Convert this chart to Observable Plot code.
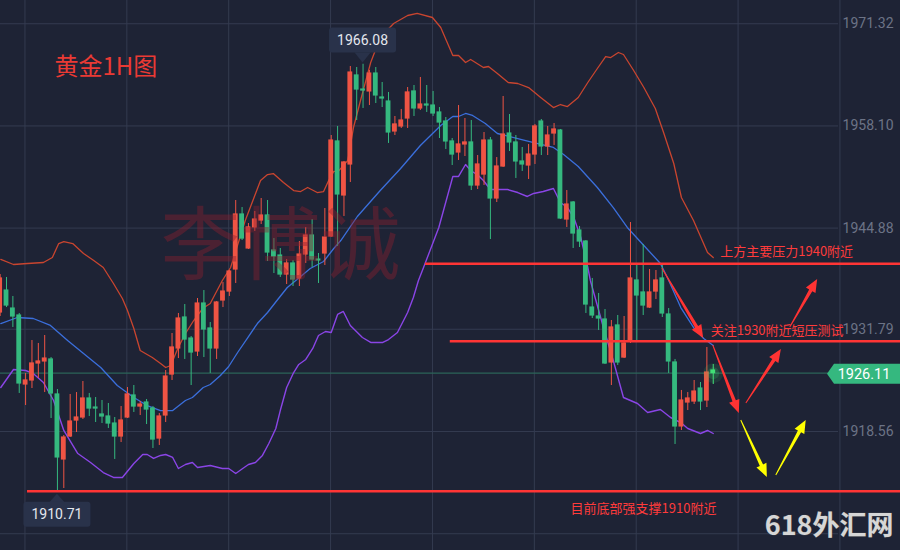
<!DOCTYPE html>
<html><head><meta charset="utf-8">
<script src="https://cdn.jsdelivr.net/npm/d3@7"></script>
<script src="https://cdn.jsdelivr.net/npm/@observablehq/plot@0.6"></script>
<style>
html,body{margin:0;padding:0;background:#1e2335;}
#chart{width:900px;height:550px;overflow:hidden;}
</style></head><body><div id="chart"></div>
<script>
// ---- data (1H gold candles, index -1 .. 111) ----
const startIndex = -1;
const opens = [1933.96,1936.80,1934.47,1933.57,1924.64,1925.16,1927.36,1927.62,1927.88,1923.35,
1914.94,1917.91,1919.98,1920.37,1922.83,1921.66,1920.76,1920.50,1919.59,1917.91,
1920.37,1923.22,1921.79,1922.31,1921.53,1917.65,1920.63,1925.93,1929.30,1933.31,
1930.59,1928.91,1935.12,1931.89,1929.30,1935.51,1936.67,1939.52,1946.64,1942.24,
1944.96,1945.86,1946.51,1941.98,1941.33,1938.87,1940.30,1938.36,1941.46,1943.92,
1940.81,1941.59,1943.79,1956.09,1949.10,1953.11,1964.63,1962.81,1962.56,1964.88,
1961.78,1961.26,1957.38,1958.03,1959.06,1962.56,1960.36,1960.87,1960.74,1959.84,
1958.67,1956.09,1954.66,1955.70,1955.96,1950.39,1951.81,1956.21,1948.71,1952.85,
1957.12,1955.96,1953.50,1952.98,1954.40,1958.67,1955.44,1957.12,1957.51,1945.99,
1948.19,1944.57,1943.14,1934.60,1933.44,1933.05,1927.49,1932.28,1928.13,1930.33,
1938.10,1936.55,1934.60,1936.67,1938.36,1933.70,1927.49,1919.21,1922.31,1922.44,
1924.12,1922.57,1926.45];
const highs = [1938.87,1938.49,1936.03,1933.83,1926.07,1930.33,1929.95,1930.98,1928.13,1923.99,
1918.04,1923.35,1923.60,1925.03,1923.48,1922.96,1922.57,1922.18,1920.37,1921.79,
1924.25,1924.51,1922.44,1922.70,1921.79,1920.89,1926.45,1931.24,1933.83,1934.99,
1930.85,1935.77,1936.80,1932.66,1935.38,1937.84,1939.39,1948.45,1947.54,1945.47,
1947.03,1948.71,1948.45,1943.53,1942.24,1940.81,1940.69,1943.14,1944.96,1945.99,
1941.59,1947.41,1956.86,1958.03,1953.50,1965.79,1965.66,1966.08,1965.27,1965.66,
1963.72,1962.43,1959.32,1960.23,1963.07,1963.33,1964.37,1963.33,1962.56,1960.48,
1959.19,1956.47,1960.74,1959.06,1958.80,1954.27,1957.25,1956.60,1954.01,1961.91,
1959.58,1956.86,1955.31,1955.70,1958.29,1958.93,1958.03,1958.41,1957.64,1949.74,
1948.32,1945.09,1943.27,1938.36,1936.42,1934.34,1932.92,1933.57,1933.44,1945.60,
1940.04,1942.76,1939.52,1939.39,1940.17,1934.47,1927.88,1923.87,1923.60,1925.16,
1924.90,1929.43,1927.23];
const lows = [1933.44,1934.60,1932.02,1923.48,1921.92,1924.12,1925.42,1923.60,1920.24,1910.71,
1911.18,1917.78,1918.43,1920.11,1920.50,1919.72,1919.59,1918.95,1914.94,1917.13,
1920.24,1921.02,1920.63,1919.46,1916.36,1916.75,1919.72,1925.16,1928.00,1927.88,
1924.51,1928.26,1928.13,1926.07,1927.88,1934.60,1936.03,1937.71,1943.27,1942.11,
1944.44,1945.34,1940.56,1939.00,1938.49,1937.58,1937.32,1937.32,1940.30,1939.78,
1937.71,1940.04,1943.66,1942.50,1946.38,1950.78,1958.80,1960.36,1960.74,1961.00,
1960.48,1955.83,1956.86,1957.77,1957.77,1959.32,1960.10,1959.84,1959.32,1956.47,
1955.05,1952.98,1953.63,1954.14,1949.74,1949.87,1950.39,1943.40,1948.19,1952.72,
1954.79,1951.30,1952.21,1951.17,1953.11,1954.27,1954.27,1955.57,1945.99,1944.96,
1942.24,1942.37,1933.83,1933.18,1931.63,1927.23,1924.51,1927.10,1928.00,1929.95,
1930.33,1933.57,1934.47,1935.64,1933.31,1926.07,1916.88,1918.69,1921.27,1922.05,
1921.27,1921.66,1924.64];
const closes = [1938.36,1934.86,1933.44,1924.77,1925.16,1927.36,1927.62,1928.00,1923.48,1915.20,
1917.78,1919.85,1920.37,1922.83,1921.53,1921.53,1920.50,1919.59,1917.91,1919.98,
1923.35,1921.79,1922.05,1921.40,1917.52,1920.50,1925.67,1929.43,1933.18,1930.46,
1928.78,1935.12,1931.76,1929.30,1935.25,1936.67,1939.26,1946.64,1943.53,1944.96,
1945.99,1946.51,1941.72,1941.20,1938.87,1940.30,1938.23,1941.46,1943.92,1940.81,
1940.69,1943.66,1956.21,1949.23,1953.37,1965.01,1962.81,1962.68,1964.88,1962.04,
1961.65,1957.25,1958.29,1958.80,1962.43,1960.36,1960.87,1960.74,1959.71,1958.54,
1956.09,1954.40,1955.70,1955.96,1950.39,1953.11,1956.21,1948.71,1952.85,1956.99,
1955.96,1953.50,1953.11,1954.40,1958.03,1955.44,1956.86,1957.64,1946.12,1947.93,
1944.18,1943.14,1934.99,1933.57,1933.18,1927.36,1932.02,1927.49,1929.95,1938.36,
1936.16,1934.86,1936.55,1938.10,1933.83,1927.62,1919.21,1922.57,1922.83,1923.73,
1922.44,1926.19,1926.11];

// Bollinger bands: [candle index, price]
const upperBand = [[-0.9,1940.82],[1.1,1940.17],[3.3,1940.30],[5.8,1940.43],[7.2,1941.07],[8.2,1942.88],[9.0,1943.14],[10.4,1942.88],[12.1,1941.59],[13.7,1940.69],[15.2,1939.78],[16.8,1937.71],[18.2,1935.77],[19.0,1934.22],[20.0,1931.89],[21.0,1929.04],[22.9,1928.13],[24.2,1927.36],[25.0,1926.84],[25.8,1927.10],[26.9,1929.30],[28.1,1931.24],[29.4,1932.92],[30.8,1934.47],[32.0,1935.12],[33.9,1938.10],[35.2,1939.78],[37.5,1945.86],[39.9,1951.04],[41.0,1951.81],[41.9,1951.94],[43.5,1950.78],[45.1,1949.74],[46.2,1949.61],[47.3,1950.13],[48.8,1949.48],[49.8,1949.61],[50.6,1951.04],[51.4,1952.21],[52.1,1952.21],[53.6,1953.63],[54.5,1957.90],[55.6,1961.39],[57.2,1966.31],[58.7,1969.54],[60.8,1971.35],[63.0,1972.39],[64.5,1972.65],[66.9,1972.13],[68.2,1970.84],[70.1,1967.21],[71.0,1967.21],[72.1,1966.31],[72.9,1966.70],[74.9,1965.66],[75.7,1965.79],[77.1,1964.88],[78.8,1963.72],[80.3,1963.59],[82.0,1963.07],[83.9,1961.78],[85.9,1960.48],[87.0,1960.87],[88.1,1960.61],[89.8,1961.78],[91.3,1963.72],[92.8,1965.53],[94.1,1967.08],[94.9,1966.95],[96.1,1967.60],[96.9,1967.34],[98.5,1965.27],[100.1,1963.07],[101.9,1960.36],[103.2,1957.25],[104.8,1953.24],[106.0,1948.84],[107.9,1945.86],[110.1,1941.72],[111.0,1941.07]];
const middleBand = [[-0.9,1932.53],[1.7,1933.31],[4.2,1933.18],[6.9,1932.28],[9.6,1930.33],[12.1,1928.65],[14.8,1926.84],[17.4,1924.51],[20.0,1922.96],[22.1,1921.92],[24.2,1921.27],[26.1,1921.27],[28.1,1922.57],[29.2,1922.96],[30.9,1924.25],[32.0,1924.64],[33.6,1925.80],[34.9,1926.97],[36.3,1928.78],[37.9,1930.72],[39.4,1932.53],[41.0,1933.96],[42.6,1935.64],[44.1,1937.19],[46.2,1938.62],[47.7,1939.65],[49.8,1940.56],[51.4,1942.24],[52.5,1943.27],[55.1,1946.38],[58.7,1949.74],[61.9,1952.59],[65.0,1955.57],[68.2,1958.16],[70.1,1959.32],[71.0,1959.32],[72.1,1959.71],[73.2,1959.45],[75.2,1958.41],[77.1,1957.12],[80.3,1956.47],[82.8,1955.95],[85.9,1955.31],[87.5,1954.40],[89.8,1952.85],[92.8,1950.13],[95.3,1947.54],[97.5,1944.96],[100.1,1942.63],[102.7,1940.30],[103.8,1938.49],[105.9,1934.60],[107.9,1932.02],[109.5,1930.59],[111.0,1929.69]];
const lowerBand = [[-0.9,1924.25],[1.1,1926.58],[3.0,1926.45],[4.2,1926.07],[5.8,1924.90],[7.4,1922.57],[9.0,1918.69],[11.2,1915.71],[13.2,1914.55],[15.2,1913.25],[16.8,1912.61],[18.2,1912.61],[20.0,1914.42],[21.4,1915.58],[22.1,1915.58],[23.1,1915.07],[24.2,1915.46],[25.0,1915.58],[26.1,1915.20],[27.0,1913.77],[28.1,1914.29],[29.2,1914.55],[30.0,1913.90],[32.0,1914.16],[33.9,1913.77],[34.9,1913.77],[36.0,1913.12],[37.1,1913.77],[38.0,1914.29],[39.1,1914.55],[40.2,1915.46],[41.2,1917.01],[42.3,1918.95],[43.0,1921.27],[44.0,1924.25],[45.1,1926.19],[45.9,1927.23],[47.0,1927.88],[48.1,1929.30],[49.0,1930.98],[50.1,1931.50],[51.0,1931.37],[52.0,1933.70],[52.9,1934.09],[54.0,1932.28],[55.9,1930.72],[57.2,1930.08],[59.1,1930.08],[60.0,1930.46],[61.4,1931.37],[63.0,1933.96],[63.9,1935.90],[64.7,1938.10],[65.5,1939.78],[67.9,1944.96],[70.1,1951.56],[71.0,1951.56],[72.1,1953.11],[72.9,1952.33],[74.1,1951.69],[74.9,1951.04],[76.0,1949.87],[78.7,1949.87],[80.3,1949.48],[81.8,1948.97],[82.8,1949.36],[84.3,1949.61],[85.9,1950.00],[87.0,1948.19],[88.1,1947.54],[89.1,1946.25],[90.2,1943.66],[91.3,1939.78],[91.7,1938.10],[93.8,1931.89],[95.3,1927.75],[96.9,1922.96],[99.1,1922.18],[100.7,1921.02],[102.7,1921.40],[104.3,1920.37],[105.9,1919.72],[107.0,1918.95],[109.0,1918.30],[110.1,1918.69],[111.0,1918.30]];

const axisTicks = [1971.32, 1958.10, 1944.88, 1931.79, 1918.56];
const extraGrid = [1905.33];
const timeGrid = [2.9, 18.9, 34.9, 50.9, 66.9, 82.9, 98.9, 114.9, 130.9];
const lastPrice = 1926.11;
const highMark = {i: 56, p: 1966.08};
const lowMark = {i: 8, p: 1910.71};

const levelPrices = [1940.26, 1930.24, 1910.83];
const levelStarts = [65.8, 69.7, 3.3];
const levelTexts = ["上方主要压力1940附近", "关注1930附近短压测试", "目前底部强支撑1910附近"];
const levelTextAt = [112.1, 110.6, 88.6];

const arrowSegments = [
  {t1: 103.0, p1: 1939.65, t2: 109.5, p2: 1930.59, kind: "red"},
  {t1: 111.0, p1: 1929.69, t2: 115.1, p2: 1920.89, kind: "red"},
  {t1: 116.2, p1: 1922.18, t2: 121.7, p2: 1929.17, kind: "red"},
  {t1: 123.1, p1: 1932.02, t2: 127.4, p2: 1938.23, kind: "red"},
  {t1: 115.4, p1: 1919.98, t2: 119.5, p2: 1912.61, kind: "yellow"},
  {t1: 120.9, p1: 1912.87, t2: 125.6, p2: 1919.98, kind: "yellow"}
];

// ---- styles ----
const BG = "#1e2335", GRID = "#343b50";
const UP = "#ef5444", DOWN = "#35b97f";
const CJK = "'Noto Sans CJK SC','Noto Sans',sans-serif";
const NUM = "Roboto,'Noto Sans',sans-serif";
const xDomain = [-0.9424, 140.41];
const yDomain = [1903.16, 1974.33];

const candles = opens.map((o, k) => ({i: startIndex + k, o, h: highs[k], l: lows[k], c: closes[k]}));
const lastIdx = candles[candles.length - 1].i;
const col = d => d.i === lastIdx ? "#44e07a" : (d.c >= d.o ? UP : DOWN);
const levels = levelPrices.map((p, k) => ({p, from: levelStarts[k], text: levelTexts[k], at: levelTextAt[k]}));
const levelDy = [-11.6, -10.7, 18];
const toPts = a => a.map(([t, v]) => ({t, v}));

const plot = Plot.plot({
  width: 900, height: 550,
  marginTop: 0, marginRight: 0, marginBottom: 0, marginLeft: 0,
  style: {background: BG, fontFamily: NUM, overflow: "hidden"},
  x: {domain: xDomain, axis: null},
  y: {domain: yDomain, axis: null},
  color: {type: "identity"},
  marks: [
    Plot.ruleX(timeGrid, {stroke: GRID, strokeWidth: 1}),
    Plot.ruleY(axisTicks.concat(extraGrid), {stroke: GRID, strokeWidth: 1, insetRight: 62}),
    Plot.ruleY([lastPrice], {stroke: "#2b6558", strokeWidth: 1.2, insetRight: 72}),
    Plot.line(toPts(upperBand), {x: "t", y: "v", stroke: "#c9452f", strokeWidth: 1.3}),
    Plot.line(toPts(middleBand), {x: "t", y: "v", stroke: "#3b6fdc", strokeWidth: 1.3}),
    Plot.line(toPts(lowerBand), {x: "t", y: "v", stroke: "#8a45e6", strokeWidth: 1.4}),
    Plot.ruleX(candles, {x: "i", y1: "l", y2: "h", stroke: col, strokeWidth: 1}),
    Plot.rect(candles, {
      x1: d => d.i - 0.38, x2: d => d.i + 0.38,
      y1: d => Math.min(d.o, d.c), y2: d => Math.max(d.o, d.c),
      fill: col, insetTop: -0.6, insetBottom: -0.6
    }),
    Plot.dot([candles[candles.length - 1]], {x: "i", y: "c", r: 10, fill: "#3ddc6f", fillOpacity: 0.12}),
    Plot.dot([candles[candles.length - 1]], {x: "i", y: "c", r: 6, fill: "#3ddc6f", fillOpacity: 0.18}),
    Plot.ruleY(levels, {y: "p", x1: "from", x2: xDomain[1], stroke: "#ff3535", strokeWidth: 2.4}),
    ...levels.map((l, k) => Plot.text([l], {x: "at", y: "p", text: "text", dy: levelDy[k],
      textAnchor: "start", lineAnchor: "middle", fill: "#ff3b3b", fontSize: 13, fontFamily: CJK})),
    Plot.text(axisTicks, {y: d => d, text: d => d.toFixed(2), frameAnchor: "right", dx: -7,
      textAnchor: "end", lineAnchor: "middle", fill: "#6c7386", fontSize: 14, fontFamily: NUM}),
    Plot.text(["黄金1H图"], {text: d => d, frameAnchor: "top-left", dx: 54, dy: 67,
      textAnchor: "start", lineAnchor: "middle", fill: "#ea3a34", fontSize: 24, fontFamily: CJK}),
    Plot.text(["李博诚"], {text: d => d, frameAnchor: "top-left", dx: 280, dy: 247,
      textAnchor: "middle", lineAnchor: "middle", fill: "#8a1f30", fillOpacity: 0.42, fontSize: 80, fontFamily: CJK}),
    Plot.text(["618外汇网"], {text: d => d, frameAnchor: "bottom-right", dx: -7, dy: -24,
      textAnchor: "end", lineAnchor: "middle", fill: "#d6d6d6", stroke: "#555", strokeWidth: 0.6,
      fontSize: 27, fontWeight: "bold", fontFamily: CJK})
  ]
});

// ---- annotations via the plot's own scales ----
const sx = plot.scale("x"), sy = plot.scale("y");
const X = v => sx.apply(v), Y = v => sy.apply(v);
const svg = d3.select(plot);
const g = svg.append("g");

for (const a of arrowSegments) {
  const x1 = X(a.t1), y1 = Y(a.p1), x2 = X(a.t2), y2 = Y(a.p2);
  const dx = x2 - x1, dy = y2 - y1, len = Math.hypot(dx, dy);
  const ux = dx / len, uy = dy / len, nx = -uy, ny = ux;
  const hl = 13, hw = 5.5, w0 = 0.5, w1 = 1.8;
  const bx = x2 - ux * hl, by = y2 - uy * hl;
  const pts = [[x1 + nx * w0, y1 + ny * w0], [bx + nx * w1, by + ny * w1], [bx + nx * hw, by + ny * hw],
    [x2, y2], [bx - nx * hw, by - ny * hw], [bx - nx * w1, by - ny * w1], [x1 - nx * w0, y1 - ny * w0]];
  g.append("path").attr("d", "M" + pts.map(p => p.join(",")).join("L") + "Z")
    .attr("fill", a.kind === "red" ? "#ff3333" : "#ffff00");
}

// high label
{
  const cx = X(highMark.i), tip = Y(highMark.p) - 1.3;
  g.append("path").attr("d", `M${cx - 8},${tip - 10}L${cx + 8},${tip - 10}L${cx},${tip}Z`).attr("fill", "#29324a");
  g.append("rect").attr("x", cx - 33.5).attr("y", tip - 35).attr("width", 67).attr("height", 25).attr("rx", 3).attr("fill", "#29324a");
  g.append("text").attr("x", cx).attr("y", tip - 22.5).attr("dy", "0.35em").attr("text-anchor", "middle")
    .attr("fill", "#e4e7ee").attr("font-size", 14).attr("font-family", NUM).text(highMark.p.toFixed(2));
}
// low label
{
  const cx = X(lowMark.i), tip = Y(lowMark.p) + 2;
  g.append("path").attr("d", `M${cx - 8},${tip + 9}L${cx + 8},${tip + 9}L${cx},${tip}Z`).attr("fill", "#29324a");
  g.append("rect").attr("x", cx - 33.5).attr("y", tip + 8).attr("width", 67).attr("height", 25).attr("rx", 3).attr("fill", "#29324a");
  g.append("text").attr("x", cx).attr("y", tip + 20.5).attr("dy", "0.35em").attr("text-anchor", "middle")
    .attr("fill", "#e4e7ee").attr("font-size", 14).attr("font-family", NUM).text(lowMark.p.toFixed(2));
}
// last price tag
{
  const py = Y(lastPrice) + 1;
  g.append("path").attr("d", `M827,${py}L834,${py - 10}L900,${py - 10}L900,${py + 10}L834,${py + 10}Z`).attr("fill", "#35b87f");
  g.append("text").attr("x", 864).attr("y", py).attr("dy", "0.35em").attr("text-anchor", "middle")
    .attr("fill", "#ffffff").attr("font-size", 14.5).attr("font-family", NUM).text(lastPrice.toFixed(2));
}

document.getElementById("chart").appendChild(plot);
</script></body></html>
